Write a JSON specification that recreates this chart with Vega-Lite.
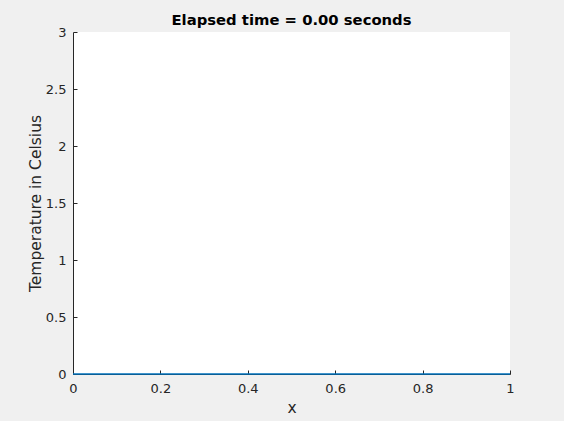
{
  "$schema": "https://vega.github.io/schema/vega-lite/v6.json",
  "width": 437,
  "height": 342,
  "autosize": {"type": "none"},
  "padding": {"left": 73, "top": 32, "right": 54, "bottom": 47},
  "background": "#f0f0f0",
  "config": {
    "view": {"fill": "white", "stroke": null},
    "font": "DejaVu Sans",
    "axis": {
      "domainColor": "#262626",
      "tickColor": "#262626",
      "labelColor": "#262626",
      "titleColor": "#262626",
      "labelFont": "DejaVu Sans",
      "titleFont": "DejaVu Sans",
      "labelFontSize": 13,
      "titleFontSize": 15.5,
      "titleFontWeight": "normal",
      "grid": false,
      "tickSize": -4,
      "domainWidth": 1,
      "tickWidth": 1,
      "format": "~g"
    }
  },
  "title": {
    "text": "Elapsed time = 0.00 seconds",
    "font": "DejaVu Sans",
    "fontSize": 14.8,
    "fontWeight": "bold",
    "color": "black",
    "offset": 0,
    "dy": 2,
    "anchor": "middle"
  },
  "data": {
    "values": [
      {"x": 0, "T": 0},
      {"x": 0.25, "T": 0},
      {"x": 0.5, "T": 0},
      {"x": 0.75, "T": 0},
      {"x": 1, "T": 0}
    ]
  },
  "mark": {"type": "line", "color": "#0072BD", "strokeWidth": 1.5},
  "encoding": {
    "x": {
      "field": "x",
      "type": "quantitative",
      "scale": {"domain": [0, 1], "nice": false},
      "axis": {"values": [0, 0.2, 0.4, 0.6, 0.8, 1], "title": "x", "labelPadding": 12, "titlePadding": 5, "labelFlush": false}
    },
    "y": {
      "field": "T",
      "type": "quantitative",
      "scale": {"domain": [0, 3], "nice": false},
      "axis": {"values": [0, 0.5, 1, 1.5, 2, 2.5, 3], "title": "Temperature in Celsius", "labelPadding": 11, "titlePadding": 2, "labelFlush": false}
    }
  }
}
